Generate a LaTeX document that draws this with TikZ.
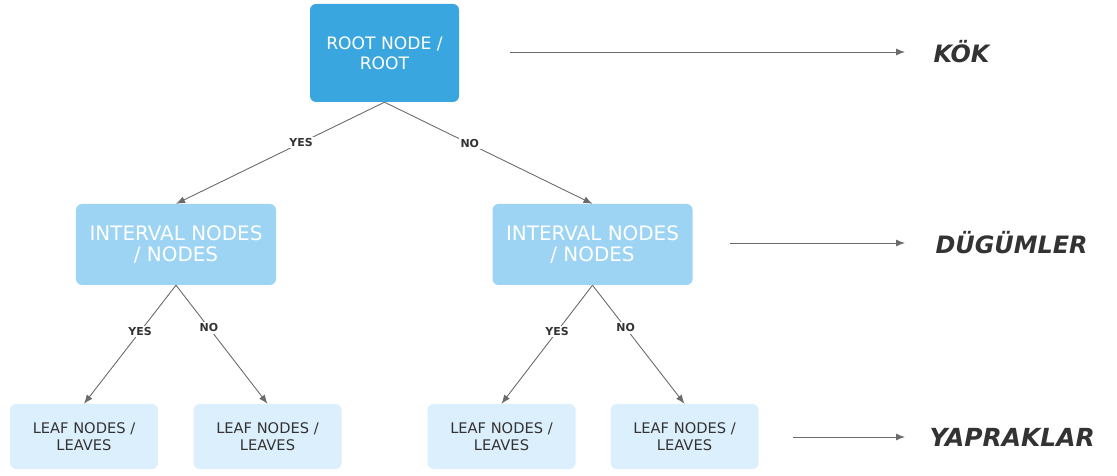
\documentclass[tikz,border=0pt]{standalone}
\usepackage{fontspec}
\setmainfont{DejaVu Sans}
\newfontfamily\labfont{DejaVu Sans}
\usetikzlibrary{arrows.meta}
\definecolor{rootc}{HTML}{3AA6DF}
\definecolor{intc}{HTML}{9DD4F4}
\definecolor{leafc}{HTML}{DCEFFC}
\definecolor{txtc}{HTML}{333333}
\definecolor{linec}{HTML}{6B6B6B}
\begin{document}
\begin{tikzpicture}[x=1bp,y=-1bp,
  box/.style={rounded corners=6bp, inner sep=0pt, align=center},
  rootbox/.style={box, fill=rootc, text=white, minimum width=149bp, minimum height=98bp, font=\fontsize{17.2}{20}\selectfont},
  intbox/.style={box, fill=intc, text=white, minimum width=200bp, minimum height=81bp, font=\fontsize{20}{22}\selectfont},
  leafbox/.style={box, fill=leafc, text=txtc, minimum width=148bp, minimum height=65bp, font=\fontsize{14.7}{17}\selectfont},
  conn/.style={draw=linec, line width=0.9bp, -{Latex[length=9bp,width=7bp]}},
  elab/.style={fill=white, inner sep=1.5bp, text=txtc, font=\fontsize{11}{12}\selectfont\bfseries},
  side/.style={text=txtc, anchor=west, font=\labfont\fontsize{24}{28}\selectfont\bfseries\itshape}
]
\useasboundingbox (0,0) rectangle (1117,476);
\node[rootbox] (root) at (384.5,53) {ROOT NODE /\\ROOT};
\node[intbox] (intL) at (176,244.5) {INTERVAL NODES\\/ NODES};
\node[intbox] (intR) at (592.5,244.5) {INTERVAL NODES\\/ NODES};
\node[leafbox] (l1) at (84,436.5) {LEAF NODES /\\LEAVES};
\node[leafbox] (l2) at (267.5,436.5) {LEAF NODES /\\LEAVES};
\node[leafbox] (l3) at (501.5,436.5) {LEAF NODES /\\LEAVES};
\node[leafbox] (l4) at (684.5,436.5) {LEAF NODES /\\LEAVES};

\draw[conn] (root.south) -- node[elab,pos=0.4] {YES} (intL.north);
\draw[conn] (root.south) -- node[elab,pos=0.41] {NO} (intR.north);
\draw[conn] (intL.south) -- node[elab,pos=0.39] {YES} (l1.north);
\draw[conn] (intL.south) -- node[elab,pos=0.36] {NO} (l2.north);
\draw[conn] (intR.south) -- node[elab,pos=0.39] {YES} (l3.north);
\draw[conn] (intR.south) -- node[elab,pos=0.36] {NO} (l4.north);

\coordinate (a1s) at (510,52);
\coordinate (a1e) at (905,52);
\coordinate (a2s) at (730,243);
\coordinate (a2e) at (905,243);
\coordinate (a3s) at (793,437);
\coordinate (a3e) at (905,437);
\node[side] (kok) at (930,52) {KÖK};
\node[side] (dug) at (932,243) {DÜGÜMLER};
\node[side, font=\labfont\fontsize{25}{28}\selectfont\bfseries\itshape] (yap) at (926,437) {YAPRAKLAR};
\draw[conn] (a1s) -- (a1e);
\draw[conn] (a2s) -- (a2e);
\draw[conn] (a3s) -- (a3e);
\end{tikzpicture}
\end{document}
